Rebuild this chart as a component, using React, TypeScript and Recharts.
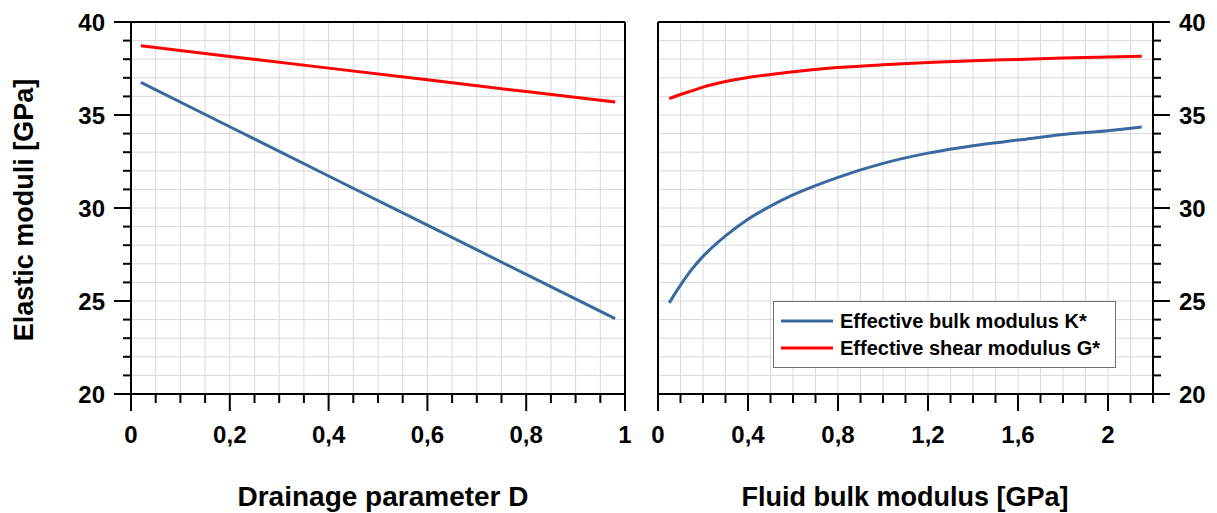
import React from "react";
import {
  LineChart,
  Line,
  XAxis,
  YAxis,
  CartesianGrid,
  ReferenceLine,
} from "recharts";

// left panel: drainage parameter D
const drainageD = [0.02, 0.2, 0.4, 0.6, 0.8, 0.98];
const drainageK = [36.75, 34.37, 31.72, 29.08, 26.43, 24.05];
const drainageG = [38.72, 38.15, 37.52, 36.89, 36.26, 35.7];

// right panel: fluid bulk modulus [GPa]
const fluidK = [0.05, 0.1, 0.15, 0.2, 0.3, 0.4, 0.5, 0.6, 0.7, 0.8, 1.0, 1.2, 1.4, 1.6, 1.8, 2.0, 2.15];
const fluidKstar = [24.9, 25.85, 26.7, 27.4, 28.5, 29.4, 30.1, 30.7, 31.2, 31.65, 32.4, 32.95, 33.35, 33.65, 33.95, 34.15, 34.35];
const fluidGstar = [35.88, 36.1, 36.3, 36.5, 36.8, 37.02, 37.18, 37.32, 37.45, 37.55, 37.7, 37.82, 37.92, 37.99, 38.06, 38.12, 38.16];

// ticks
const leftXTicks = [0, 0.05, 0.1, 0.15, 0.2, 0.25, 0.3, 0.35, 0.4, 0.45, 0.5, 0.55, 0.6, 0.65, 0.7, 0.75, 0.8, 0.85, 0.9, 0.95, 1];
const leftXMajor = [0, 0.2, 0.4, 0.6, 0.8, 1];
const leftXLabels = ["0", "0,2", "0,4", "0,6", "0,8", "1"];
const rightXTicks = [0, 0.1, 0.2, 0.3, 0.4, 0.5, 0.6, 0.7, 0.8, 0.9, 1, 1.1, 1.2, 1.3, 1.4, 1.5, 1.6, 1.7, 1.8, 1.9, 2, 2.1, 2.2];
const rightXMajor = [0, 0.4, 0.8, 1.2, 1.6, 2];
const rightXLabels = ["0", "0,4", "0,8", "1,2", "1,6", "2"];
const yTicks = [20, 21, 22, 23, 24, 25, 26, 27, 28, 29, 30, 31, 32, 33, 34, 35, 36, 37, 38, 39, 40];
const yMajor = [20, 25, 30, 35, 40];
const yLabels = ["20", "25", "30", "35", "40"];

const BLUE = "#3a68a0";
const RED = "#ff0000";
const FONT = "'Liberation Sans', Arial, sans-serif";

const leftData = drainageD.map((d, i) => ({ x: d, k: drainageK[i], g: drainageG[i] }));
const rightData = fluidK.map((f, i) => ({ x: f, k: fluidKstar[i], g: fluidGstar[i] }));

const majorIndex = (majors: number[], v: number) =>
  majors.findIndex((m) => Math.abs(m - v) < 1e-6);

const textStyle = { fontFamily: FONT, fontWeight: 700, fontSize: 24, fill: "#000" };

function makeBottomTick(majors: number[], labels: string[]) {
  return (props: any) => {
    const { x, y, payload } = props;
    const idx = majorIndex(majors, payload.value);
    const major = idx >= 0;
    return (
      <g>
        <line x1={x} x2={x} y1={y} y2={y + (major ? 17 : 9)} stroke="#000" strokeWidth={2} />
        {major && (
          <text x={x} y={y + 49} textAnchor="middle" style={textStyle}>
            {labels[idx]}
          </text>
        )}
      </g>
    );
  };
}

function makeSideTick(side: "left" | "right") {
  return (props: any) => {
    const { x, y, payload } = props;
    const idx = majorIndex(yMajor, payload.value);
    const major = idx >= 0;
    const s = side === "left" ? -1 : 1;
    return (
      <g>
        <line x1={x} x2={x + s * (major ? 17 : 8)} y1={y} y2={y} stroke="#000" strokeWidth={2} />
        {major && (
          <text
            x={x + s * 26}
            y={y + 8.5}
            textAnchor={side === "left" ? "end" : "start"}
            style={textStyle}
          >
            {yLabels[idx]}
          </text>
        )}
      </g>
    );
  };
}

const titleStyle: React.CSSProperties = {
  position: "absolute",
  fontFamily: FONT,
  fontWeight: 700,
  fontSize: 27,
  whiteSpace: "nowrap",
  transform: "translate(-50%, -50%)",
  lineHeight: 1,
};

export default function App() {
  return (
    <div style={{ position: "absolute", left: 0, top: 0, width: 1217, height: 513, background: "#fff" }}>
      <div style={{ position: "absolute", left: 0, top: 0 }}>
        <LineChart
          width={640}
          height={513}
          data={leftData}
          margin={{ top: 22, right: 15, bottom: 59, left: 71 }}
        >
          <CartesianGrid stroke="#d9d9d9" strokeWidth={1} />
          <XAxis
            dataKey="x"
            type="number"
            domain={[0, 1]}
            ticks={leftXTicks}
            interval={0}
            height={60}
            tickSize={0}
            tickMargin={0}
            tickLine={false}
            axisLine={{ stroke: "#000", strokeWidth: 2 }}
            tick={makeBottomTick(leftXMajor, leftXLabels)}
          />
          <YAxis
            type="number"
            domain={[20, 40]}
            ticks={yTicks}
            interval={0}
            width={60}
            tickSize={0}
            tickMargin={0}
            tickLine={false}
            axisLine={{ stroke: "#000", strokeWidth: 2 }}
            tick={makeSideTick("left")}
          />
          <ReferenceLine y={40} stroke="#000" strokeWidth={2} />
          <ReferenceLine x={1} stroke="#000" strokeWidth={2} />
          <Line dataKey="k" stroke={BLUE} strokeWidth={3} dot={false} type="linear" isAnimationActive={false} />
          <Line dataKey="g" stroke={RED} strokeWidth={3} dot={false} type="linear" isAnimationActive={false} />
        </LineChart>
      </div>

      <div style={{ position: "absolute", left: 640, top: 0 }}>
        <LineChart
          width={577}
          height={513}
          data={rightData}
          margin={{ top: 22, right: 4, bottom: 59, left: 18 }}
        >
          <CartesianGrid stroke="#d9d9d9" strokeWidth={1} />
          <XAxis
            dataKey="x"
            type="number"
            domain={[0, 2.2]}
            ticks={rightXTicks}
            interval={0}
            height={60}
            tickSize={0}
            tickMargin={0}
            tickLine={false}
            axisLine={{ stroke: "#000", strokeWidth: 2 }}
            tick={makeBottomTick(rightXMajor, rightXLabels)}
          />
          <YAxis
            orientation="right"
            type="number"
            domain={[20, 40]}
            ticks={yTicks}
            interval={0}
            width={60}
            tickSize={0}
            tickMargin={0}
            tickLine={false}
            axisLine={{ stroke: "#000", strokeWidth: 2 }}
            tick={makeSideTick("right")}
          />
          <ReferenceLine y={40} stroke="#000" strokeWidth={2} />
          <ReferenceLine x={0} stroke="#000" strokeWidth={2} />
          <Line dataKey="k" stroke={BLUE} strokeWidth={3} dot={false} type="monotone" isAnimationActive={false} />
          <Line dataKey="g" stroke={RED} strokeWidth={3} dot={false} type="monotone" isAnimationActive={false} />
        </LineChart>
      </div>

      {/* legend */}
      <div
        style={{
          position: "absolute",
          left: 773,
          top: 301,
          width: 341,
          height: 65,
          border: "1.5px solid #707070",
          background: "#fff",
          fontFamily: FONT,
          fontWeight: 700,
          fontSize: 20,
        }}
      >
        {[
          { c: BLUE, t: "Effective bulk modulus K*", y: 19 },
          { c: RED, t: "Effective shear modulus G*", y: 46 },
        ].map((r) => (
          <div key={r.t} style={{ position: "absolute", left: 7, top: r.y - 11, height: 22, display: "flex", alignItems: "center" }}>
            <svg width={52} height={22}>
              <line x1={0} x2={52} y1={11} y2={11} stroke={r.c} strokeWidth={3} />
            </svg>
            <span style={{ marginLeft: 7, whiteSpace: "nowrap" }}>{r.t}</span>
          </div>
        ))}
      </div>

      <div style={{ ...titleStyle, left: 24, top: 210, transform: "translate(-50%, -50%) rotate(-90deg)" }}>
        Elastic moduli [GPa]
      </div>
      <div style={{ ...titleStyle, fontSize: 28, left: 383, top: 497 }}>Drainage parameter D</div>
      <div style={{ ...titleStyle, left: 905, top: 497 }}>Fluid bulk modulus [GPa]</div>
    </div>
  );
}
